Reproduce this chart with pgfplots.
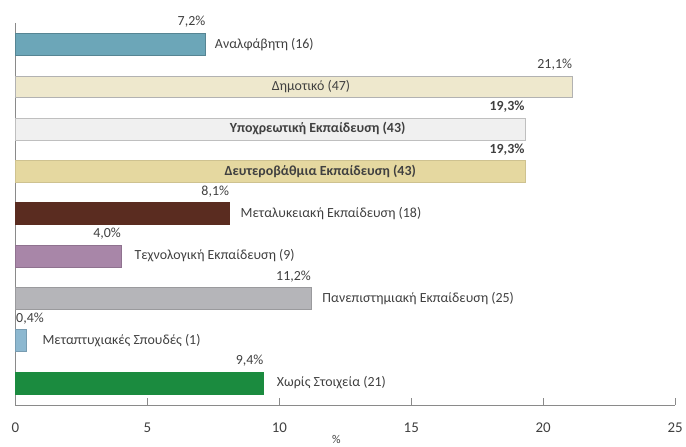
\documentclass[border=0pt]{standalone}
\usepackage{pgfplots}
\pgfplotsset{compat=1.18}
\usepackage{fontspec}
\setmainfont{Carlito}
\definecolor{txt}{HTML}{404040}
\definecolor{axgray}{HTML}{8A8A8A}
\definecolor{c1}{HTML}{6CA6B8}
\definecolor{c2}{HTML}{EEE8CD}
\definecolor{c3}{HTML}{F0F0F0}
\definecolor{c4}{HTML}{E5D8A0}
\definecolor{c5}{HTML}{5A2C20}
\definecolor{c6}{HTML}{A886A8}
\definecolor{c7}{HTML}{B5B5B9}
\definecolor{c8}{HTML}{8DB8D0}
\definecolor{c9}{HTML}{1B8B3F}
\newcommand{\lf}{\fontsize{14}{16}\selectfont}
\begin{document}
\begin{tikzpicture}
\begin{axis}[
  name=ax,
  scale only axis, width=661bp, height=383bp,
  xmin=0, xmax=25, ymin=0.493, ymax=9.53, y dir=reverse,
  axis x line*=bottom, axis y line*=left,
  xtick={0,5,10,15,20,25}, ytick=\empty,
  tick align=inside, major tick length=7bp,
  axis line style={draw=axgray, line width=0.9pt},
  tick style={draw=axgray, line width=0.9pt},
  /pgf/number format/assume math mode=true,
  xticklabel style={font=\fontsize{15}{17}\selectfont, text=txt, yshift=-14bp},
  xlabel={\%}, xlabel style={font=\fontsize{12}{14}\selectfont, text=txt, yshift=4bp, xshift=-9bp},
  xbar, bar width=22bp, bar shift=0pt,
  clip=false,
  nodes near coords={\pgfmathprintnumber[fixed,fixed zerofill,precision=1,use comma]{\pgfplotspointmeta}\%},
  nodes near coords style={anchor=east, inner xsep=0pt, yshift=22bp, font=\lf, text=txt},
]
\addplot[fill=c1, draw=c1!80!black, nodes near coords style={yshift=1bp}] coordinates {(7.2,1)};
\addplot[fill=c2, draw=black!30] coordinates {(21.1,2)};
\addplot[fill=c3, draw=black!25, nodes near coords style={font=\lf\bfseries}] coordinates {(19.3,3)};
\addplot[fill=c4, draw=c4!90!black, nodes near coords style={font=\lf\bfseries}] coordinates {(19.3,4)};
\addplot[fill=c5, draw=c5] coordinates {(8.1,5)};
\addplot[fill=c6, draw=c6!85!black] coordinates {(4.0,6)};
\addplot[fill=c7, draw=c7!85!black] coordinates {(11.2,7)};
\addplot[fill=c8, draw=c8!85!black, nodes near coords style={anchor=west, xshift=-10bp}] coordinates {(0.4,8)};
\addplot[fill=c9, draw=c9] coordinates {(9.4,9)};
\node[anchor=west, font=\lf, text=txt, xshift=6bp] at (axis cs:7.2,1) {Αναλφάβητη (16)};
\node[font=\lf, text=txt] at (axis cs:11.2,2) {Δημοτικό (47)};
\node[font=\lf\bfseries, text=txt] at (axis cs:11.45,3) {Υποχρεωτική Εκπαίδευση (43)};
\node[font=\lf\bfseries, text=txt] at (axis cs:11.55,4) {Δευτεροβάθμια Εκπαίδευση (43)};
\node[anchor=west, font=\lf, text=txt, xshift=8bp] at (axis cs:8.1,5) {Μεταλυκειακή Εκπαίδευση (18)};
\node[anchor=west, font=\lf, text=txt, xshift=10bp] at (axis cs:4.0,6) {Τεχνολογική Εκπαίδευση (9)};
\node[anchor=west, font=\lf, text=txt, xshift=8bp] at (axis cs:11.2,7) {Πανεπιστημιακή Εκπαίδευση (25)};
\node[anchor=west, font=\lf, text=txt, xshift=13bp] at (axis cs:0.4,8) {Μεταπτυχιακές Σπουδές (1)};
\node[anchor=west, font=\lf, text=txt, xshift=10bp] at (axis cs:9.4,9) {Χωρίς Στοιχεία (21)};
\end{axis}
\path ([shift={(-15.5bp,-38bp)}]ax.south west) rectangle ([shift={(9bp,23bp)}]ax.north east);
\end{tikzpicture}
\end{document}
